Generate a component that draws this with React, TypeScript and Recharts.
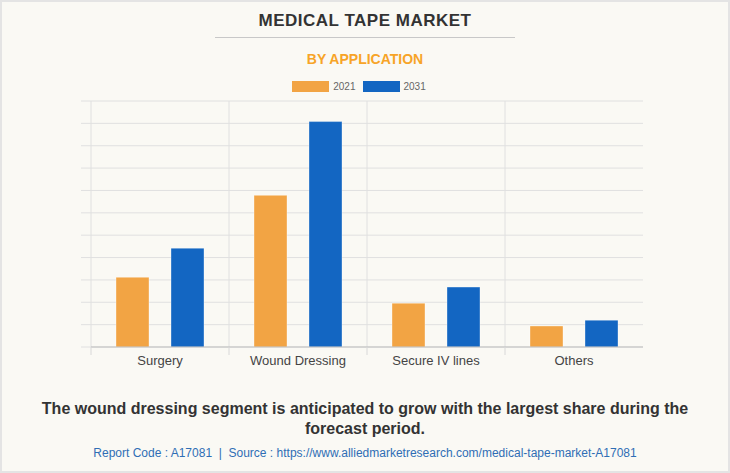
import { BarChart, Bar, XAxis, YAxis, CartesianGrid } from 'recharts';

const categories = ['Surgery', 'Wound Dressing', 'Secure IV lines', 'Others'];
const values2021 = [3.12, 6.78, 1.96, 0.94];
const values2031 = [4.42, 10.08, 2.68, 1.2];
const yTicks = [0, 1, 2, 3, 4, 5, 6, 7, 8, 9, 10, 11];

const data = categories.map((name, i) => ({
  name,
  y2021: values2021[i],
  y2031: values2031[i],
}));

const ORANGE = '#f2a444';
const BLUE = '#1366c2';
const FONT = '"Liberation Sans", Arial, sans-serif';

const CategoryTick = (props: any) => {
  const { x, y, payload } = props;
  const half = payload.offset ?? 69;
  return (
    <g>
      <line x1={x - half} x2={x - half} y1={y - 8} y2={y} stroke="#d8d8d8" />
      <text
        x={x}
        y={y}
        dy={10}
        textAnchor="middle"
        fill="#444"
        fontSize={13}
        fontFamily={FONT}
      >
        {payload.value}
      </text>
    </g>
  );
};

const legendItems = [
  { label: '2021', color: ORANGE },
  { label: '2031', color: BLUE },
];

export default function App() {
  return (
    <div
      style={{
        position: 'absolute',
        left: 0,
        top: 0,
        width: 730,
        height: 473,
        boxSizing: 'border-box',
        border: '2px solid #e4e4e4',
        background: '#faf9f4',
        fontFamily: FONT,
        overflow: 'hidden',
      }}
    >
      <div
        style={{
          position: 'absolute',
          top: 9,
          left: 0,
          width: 726,
          textAlign: 'center',
          fontSize: 17,
          fontWeight: 'bold',
          color: '#333',
          letterSpacing: 0.5,
        }}
      >
        MEDICAL TAPE MARKET
      </div>
      <div
        style={{
          position: 'absolute',
          top: 35,
          left: 213,
          width: 300,
          borderTop: '1px solid #c8c8c8',
        }}
      />
      <div
        style={{
          position: 'absolute',
          top: 49,
          left: 0,
          width: 726,
          textAlign: 'center',
          fontSize: 14,
          fontWeight: 'bold',
          color: '#f7a427',
        }}
      >
        BY APPLICATION
      </div>
      <div
        style={{
          position: 'absolute',
          top: 79,
          left: -6,
          width: 726,
          display: 'flex',
          justifyContent: 'center',
          gap: 7,
          fontSize: 10,
          color: '#666',
        }}
      >
        {legendItems.map((it) => (
          <div key={it.label} style={{ display: 'flex', alignItems: 'center', gap: 4 }}>
            <span style={{ display: 'inline-block', width: 37, height: 11, background: it.color }} />
            <span>{it.label}</span>
          </div>
        ))}
      </div>
      <div style={{ position: 'absolute', left: -2, top: -2 }}>
        <BarChart
          width={730}
          height={473}
          data={data}
          margin={{ top: 101, right: 87, bottom: 96, left: 81 }}
          barSize={33}
          barGap={22}
        >
          <CartesianGrid
            stroke="#e0e0e0"
            verticalCoordinatesGenerator={({ offset }: any) =>
              categories.map((_, i) => offset.left + (i * offset.width) / categories.length)
            }
          />
          <XAxis
            dataKey="name"
            height={30}
            axisLine={{ stroke: '#bdbdbd' }}
            tickLine={false}
            tick={<CategoryTick />}
            interval={0}
          />
          <YAxis
            width={10}
            domain={[0, 11]}
            ticks={yTicks}
            interval={0}
            tickSize={10}
            axisLine={false}
            tickLine={{ stroke: '#e0e0e0' }}
            tick={() => <g />}
          />
          <Bar
            dataKey="y2021"
            fill={ORANGE}
            stroke="#ffffff"
            strokeOpacity={0.35}
            isAnimationActive={false}
          />
          <Bar
            dataKey="y2031"
            fill={BLUE}
            stroke="#ffffff"
            strokeOpacity={0.35}
            isAnimationActive={false}
          />
        </BarChart>
      </div>
      <div
        style={{
          position: 'absolute',
          top: 397,
          left: 0,
          width: 726,
          textAlign: 'center',
          fontSize: 16,
          lineHeight: '20px',
          fontWeight: 'bold',
          color: '#333',
        }}
      >
        The wound dressing segment is anticipated to grow with the largest share during the
        <br />
        forecast period.
      </div>
      <div
        style={{
          position: 'absolute',
          top: 444,
          left: 0,
          width: 726,
          textAlign: 'center',
          fontSize: 12,
          color: '#2f6eb5',
        }}
      >
        Report Code : A17081&nbsp; | &nbsp;Source : https://www.alliedmarketresearch.com/medical-tape-market-A17081
      </div>
    </div>
  );
}
